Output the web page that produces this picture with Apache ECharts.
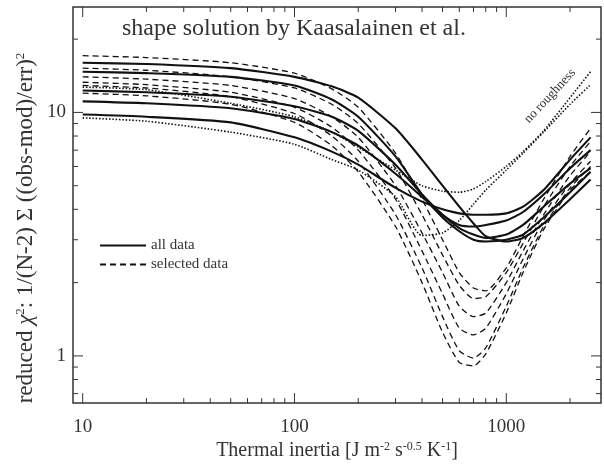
<!DOCTYPE html>
<html>
<head>
<meta charset="utf-8">
<script src="https://cdn.jsdelivr.net/npm/echarts@6/dist/echarts.min.js"></script>
<style>
    html, body {margin: 0; padding: 0; background: #fff;}
    #chart {width: 604px; height: 466px;}
</style>
</head>
<body>
<div id="chart"></div>
<script>
// thermal inertia grid
var inertia = [10, 20, 50, 100, 150, 200, 300, 400, 500, 600, 700, 800, 1000, 1200, 1500, 2000, 2500];

// all data (solid)
var all1 = [16.0, 15.8, 15.2, 14.0, 12.8, 11.5, 8.6, 6.4, 5.0, 4.1, 3.5, 3.1, 2.95, 3.05, 3.5, 4.4, 5.3];
var all2 = [14.7, 14.5, 14.0, 12.9, 11.3, 9.6, 6.6, 4.6, 3.7, 3.25, 3.0, 2.95, 3.0, 3.15, 3.7, 4.7, 5.7];
var all3 = [12.3, 12.1, 11.6, 10.6, 9.6, 8.4, 6.1, 4.6, 3.8, 3.35, 3.15, 3.05, 3.15, 3.45, 4.1, 5.1, 5.9];
var all4 = [11.1, 10.9, 10.4, 9.4, 8.3, 7.3, 5.6, 4.5, 3.8, 3.45, 3.4, 3.45, 3.6, 3.9, 4.6, 5.9, 7.0];
var all5 = [9.8, 9.6, 9.1, 7.9, 6.9, 6.1, 4.9, 4.3, 4.0, 3.85, 3.8, 3.8, 3.85, 4.1, 4.8, 6.4, 7.9];

// selected data (dashed)
var sel1 = [17.1, 16.8, 16.0, 14.5, 12.5, 10.5, 6.8, 4.4, 3.0, 2.2, 1.9, 1.85, 2.3, 3.1, 4.4, 6.6, 8.6];
var sel2 = [15.2, 14.9, 14.0, 12.6, 10.8, 9.0, 5.9, 3.8, 2.6, 1.95, 1.72, 1.75, 2.2, 2.9, 4.1, 6.0, 7.6];
var sel3 = [14.0, 13.7, 12.9, 11.4, 9.6, 7.9, 5.0, 3.2, 2.2, 1.6, 1.45, 1.5, 2.0, 2.7, 3.8, 5.5, 6.9];
var sel4 = [13.3, 13.0, 12.1, 10.5, 8.7, 7.0, 4.4, 2.7, 1.8, 1.3, 1.22, 1.3, 1.8, 2.5, 3.6, 5.1, 6.3];
var sel5 = [12.9, 12.6, 11.6, 9.9, 8.0, 6.3, 3.8, 2.3, 1.45, 1.05, 0.98, 1.08, 1.6, 2.3, 3.4, 4.9, 6.0];
var sel6 = [12.0, 11.7, 10.8, 9.1, 7.3, 5.7, 3.4, 2.0, 1.25, 0.94, 0.91, 1.02, 1.5, 2.2, 3.3, 4.8, 5.7];

// no roughness (dotted)
var rough1 = [12.7, 12.4, 10.9, 9.6, 8.3, 7.2, 5.8, 5.0, 4.75, 4.7, 4.85, 5.2, 6.0, 6.9, 8.4, 11.5, 14.7];
var rough2 = [9.5, 9.2, 8.3, 7.4, 6.4, 5.8, 4.5, 3.12, 3.2, 3.6, 4.2, 4.8, 5.8, 6.8, 8.3, 10.8, 13.0];

// tick positions
var xTicks = [10, 20, 30, 40, 50, 60, 70, 80, 90, 100, 200, 300, 400, 500, 600, 700, 800, 900, 1000, 2000];
var yTicks = [0.7, 0.8, 0.9, 1, 2, 3, 4, 5, 6, 7, 8, 9, 10, 20];

var serif = 'Liberation Serif';
var ink = '#111';

function pairs(arr) {
    return inertia.map(function (x, i) {
        return [x, arr[i]];
    });
}

function isDecade(v) {
    var l = Math.log(v) / Math.LN10;
    return Math.abs(l - Math.round(l)) < 1e-6;
}

function lineSeries(name, arr, type, width) {
    return {
        name: name,
        type: 'line',
        data: pairs(arr),
        symbol: 'none',
        smooth: 0.2,
        lineStyle: {color: ink, width: width, type: type},
        itemStyle: {color: ink},
        silent: true
    };
}

var series = [];
[rough1, rough2].forEach(function (a) {
    series.push(lineSeries('no roughness', a, [1.5, 1.8], 1.6));
});
[sel1, sel2, sel3, sel4, sel5, sel6].forEach(function (a) {
    series.push(lineSeries('selected data', a, [6, 4], 1.3));
});
[all1, all2, all3, all4, all5].forEach(function (a) {
    series.push(lineSeries('all data', a, 'solid', 2.1));
});

// tick marks on all four sides
series.push({
    type: 'custom',
    silent: true,
    clip: false,
    data: xTicks.map(function (v) { return [v, 1]; }),
    renderItem: function (params, api) {
        var v = api.value(0);
        var x = api.coord([v, 1])[0];
        var cs = params.coordSys;
        var len = isDecade(v) ? 10 : 5;
        var st = {stroke: '#333', lineWidth: 1};
        return {
            type: 'group',
            children: [
                {type: 'line', shape: {x1: x, y1: cs.y + cs.height, x2: x, y2: cs.y + cs.height - len}, style: st},
                {type: 'line', shape: {x1: x, y1: cs.y, x2: x, y2: cs.y + len}, style: st}
            ]
        };
    }
});
series.push({
    type: 'custom',
    silent: true,
    clip: false,
    data: yTicks.map(function (v) { return [10, v]; }),
    renderItem: function (params, api) {
        var v = api.value(1);
        var y = api.coord([10, v])[1];
        var cs = params.coordSys;
        var len = isDecade(v) ? 10 : 5;
        var st = {stroke: '#333', lineWidth: 1};
        return {
            type: 'group',
            children: [
                {type: 'line', shape: {x1: cs.x, y1: y, x2: cs.x + len, y2: y}, style: st},
                {type: 'line', shape: {x1: cs.x + cs.width, y1: y, x2: cs.x + cs.width - len, y2: y}, style: st}
            ]
        };
    }
});

var option = {
    animation: false,
    backgroundColor: '#fff',
    title: {
        text: 'shape solution by Kaasalainen et al.',
        left: 122,
        top: 17,
        padding: 0,
        textStyle: {fontFamily: serif, fontSize: 24, fontWeight: 'normal', color: '#333'}
    },
    legend: {
        data: ['all data', 'selected data'],
        orient: 'vertical',
        left: 99,
        top: 238,
        padding: 0,
        itemWidth: 46,
        itemHeight: 14,
        itemGap: 4,
        selectedMode: false,
        itemStyle: {opacity: 0, color: 'rgba(0,0,0,0)', borderWidth: 0},
        textStyle: {fontFamily: serif, fontSize: 15, color: '#333'}
    },
    grid: {
        left: 73,
        top: 7,
        width: 530,
        height: 397,
        show: true,
        borderColor: '#333',
        borderWidth: 1.5,
        backgroundColor: 'transparent'
    },
    xAxis: {
        type: 'log',
        logBase: 10,
        min: 9,
        max: 2800,
        name: 'Thermal inertia [J m{s|-2} s{s|-0.5} K{s|-1}]',
        nameLocation: 'middle',
        nameGap: 33,
        nameTextStyle: {
            fontFamily: serif, fontSize: 20, color: '#333',
            rich: {s: {fontFamily: serif, fontSize: 12, color: '#333', verticalAlign: 'top'}}
        },
        axisLine: {show: false},
        axisTick: {show: false},
        splitLine: {show: false},
        axisLabel: {
            margin: 14,
            fontFamily: serif,
            fontSize: 19,
            color: '#333',
            showMinLabel: true,
            showMaxLabel: true,
            formatter: function (v) {
                return (v >= 10 && isDecade(v)) ? String(Math.round(v)) : '';
            }
        }
    },
    yAxis: {
        type: 'log',
        logBase: 10,
        min: 0.64,
        max: 27.1,
        axisLine: {show: false},
        axisTick: {show: false},
        splitLine: {show: false},
        axisLabel: {
            margin: 7,
            fontFamily: serif,
            fontSize: 19,
            color: '#333',
            formatter: function (v) {
                return (v >= 1 && isDecade(v)) ? String(Math.round(v)) : '';
            }
        }
    },
    graphic: [
        {
            type: 'text',
            x: 26,
            y: 228,
            rotation: Math.PI / 2,
            silent: true,
            style: {
                text: '{n|reduced }{c|χ}{s|2}{n|: 1/(N-2) Σ ((obs-mod)/err)}{s|2}',
                align: 'center',
                verticalAlign: 'middle',
                rich: {
                    n: {fontFamily: serif, fontSize: 23, fill: '#333'},
                    c: {fontFamily: serif, fontSize: 23, fontStyle: 'italic', fill: '#333'},
                    s: {fontFamily: serif, fontSize: 13, fill: '#333', verticalAlign: 'top'}
                }
            }
        },
        {
            type: 'text',
            x: 550,
            y: 96,
            rotation: 0.82,
            silent: true,
            style: {
                text: 'no roughness',
                align: 'center',
                verticalAlign: 'middle',
                fontFamily: serif,
                fontSize: 13,
                fill: '#333'
            }
        }
    ],
    series: series
};

var chart = echarts.init(document.getElementById('chart'));
chart.setOption(option);
</script>
</body>
</html>
